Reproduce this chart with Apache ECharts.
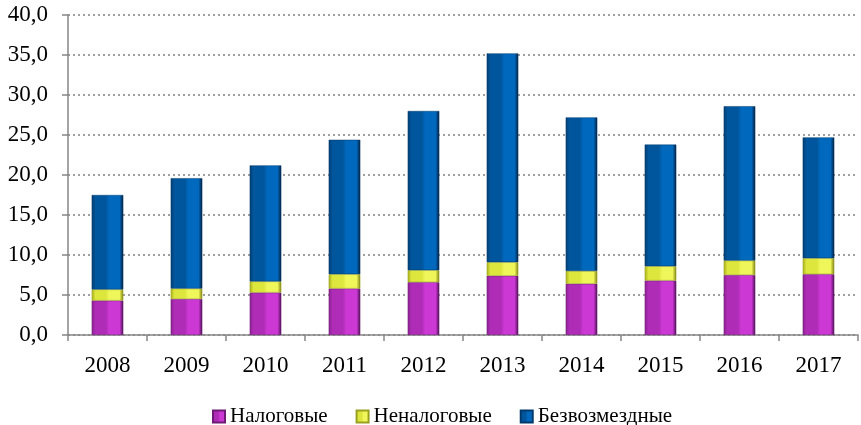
<!DOCTYPE html>
<html>
<head>
<meta charset="utf-8">
<script src="https://cdn.jsdelivr.net/npm/echarts@6/dist/echarts.min.js"></script>
<style>
html,body{margin:0;padding:0;background:#fff;}
#c{width:861px;height:425px;}
</style>
</head>
<body>
<div id="c"></div>
<script>
const categories = ['2008','2009','2010','2011','2012','2013','2014','2015','2016','2017'];
const taxValues = [4.3, 4.5, 5.3, 5.8, 6.6, 7.4, 6.4, 6.8, 7.5, 7.6];
const nonTaxValues = [1.4, 1.3, 1.4, 1.8, 1.5, 1.7, 1.6, 1.8, 1.8, 2.0];
const grantValues = [11.8, 13.8, 14.5, 16.8, 19.9, 26.1, 19.2, 15.2, 19.3, 15.1];
const seriesNames = ['Налоговые', 'Неналоговые', 'Безвозмездные'];

function grad(c1, c2, c3, c4) {
  return new echarts.graphic.LinearGradient(0, 0, 1, 0, [
    {offset: 0, color: c1},
    {offset: 0.12, color: c2},
    {offset: 0.45, color: c2},
    {offset: 0.55, color: c3},
    {offset: 0.88, color: c3},
    {offset: 1, color: c4}
  ]);
}
const font = 'Liberation Serif';
const chart = echarts.init(document.getElementById('c'));
chart.setOption({
  animation: false,
  textStyle: {fontFamily: font},
  grid: {left: 68, right: 3, top: 15, bottom: 90, containLabel: false},
  legend: {
    top: 401, left: 207,
    itemWidth: 12, itemHeight: 12, itemGap: 28,
    icon: 'rect',
    textStyle: {fontFamily: font, fontSize: 21, color: '#000'},
    data: seriesNames
  },
  xAxis: {
    type: 'category', data: categories,
    axisLine: {lineStyle: {color: '#868686', width: 1.5}},
    axisTick: {show: true, length: 6, lineStyle: {color: '#868686', width: 1.5}},
    axisLabel: {fontFamily: font, fontSize: 23, color: '#000', margin: 19}
  },
  yAxis: {
    type: 'value', min: 0, max: 40, interval: 5,
    axisLine: {show: true, lineStyle: {color: '#868686', width: 1.5}},
    axisTick: {show: true, length: 6, lineStyle: {color: '#868686', width: 1.5}},
    splitLine: {lineStyle: {color: '#808080', type: [2, 3], width: 1.5}},
    axisLabel: {fontFamily: font, fontSize: 23, color: '#000', margin: 20,
      formatter: v => v.toFixed(1).replace('.', ',')}
  },
  series: [
    {name: seriesNames[0], type: 'bar', stack: 't', barWidth: '40%', data: taxValues,
     itemStyle: {color: grad('#8a2290', '#ae2cb6', '#cc38d4', '#4a1050'), borderColor: '#6d1b74', borderWidth: 0.5}},
    {name: seriesNames[1], type: 'bar', stack: 't', data: nonTaxValues,
     itemStyle: {color: grad('#a8ae1c', '#dce63c', '#eef65a', '#7c8010'), borderColor: '#9aa020', borderWidth: 0.5}},
    {name: seriesNames[2], type: 'bar', stack: 't', data: grantValues,
     itemStyle: {color: grad('#003e72', '#00569c', '#0068bd', '#061e3a'), borderColor: '#003a6c', borderWidth: 0.5}}
  ]
});
</script>
</body>
</html>
